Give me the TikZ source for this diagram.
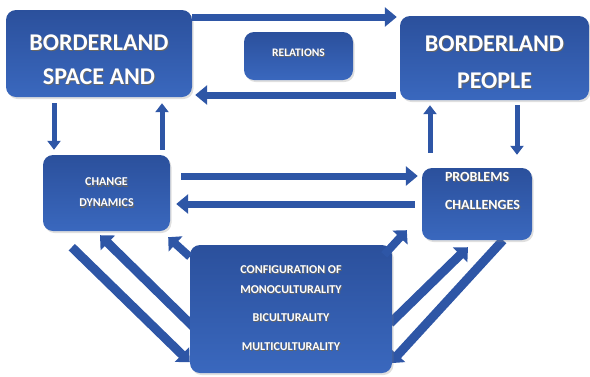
\documentclass[tikz,border=0pt]{standalone}
\usepackage{fontspec}
\setmainfont{Carlito}
\usetikzlibrary{arrows.meta, positioning, shadows, backgrounds}

\definecolor{boxtop}{RGB}{43,80,156}
\definecolor{boxbot}{RGB}{58,104,190}
\definecolor{arrowblue}{RGB}{46,86,166}

% white caption with a dark copy set just behind it
\newcommand{\shtext}[1]{\makebox[0pt][l]{\color{black!60}\hspace{1pt}\raisebox{-1.2pt}{#1}}#1}

\tikzstyle{block} = [rectangle, rounded corners=10pt, top color=boxtop, bottom color=boxbot, drop shadow={opacity=0.25, shadow xshift=1.5pt, shadow yshift=-2pt}, text=white, font=\bfseries, align=center]
\tikzstyle{txt} = [text=white, font=\bfseries, align=left, inner sep=0pt]
\tikzstyle{arrow} = [line width=7pt, draw=arrowblue, -{Triangle[length=12pt,width=19pt]}]
\tikzstyle{thinarrow} = [line width=5pt, draw=arrowblue, -{Triangle[length=9pt,width=13pt]}]
\tikzstyle{stub} = [line width=8pt, draw=arrowblue, -{Triangle[length=10pt,width=20pt]}]
\tikzstyle{diag} = [line width=9pt, draw=arrowblue, -{Triangle[length=11pt,width=20pt]}]

\begin{document}
\begin{tikzpicture}[x=1pt,y=-1pt]
\useasboundingbox (0,0) rectangle (590,376);

\node (space) [block, minimum width=186pt, minimum height=87pt, font=\fontsize{24}{34}\selectfont\bfseries] at (99,53.5) {\rule{0pt}{29pt}\shtext{BORDERLAND}\\\shtext{SPACE AND}};
\node (relations) [block, minimum width=109pt, minimum height=48pt, font=\fontsize{11.5}{14}\selectfont\bfseries] at (298.5,56) {\shtext{RELATIONS}\rule[-6pt]{0pt}{6pt}};
\node (people) [block, minimum width=189pt, minimum height=84pt, font=\fontsize{24}{37}\selectfont\bfseries] at (494.5,58) {\rule{0pt}{25pt}\shtext{BORDERLAND}\\\shtext{PEOPLE}};
\node (change) [block, minimum width=127pt, minimum height=76pt, font=\fontsize{12}{21}\selectfont\bfseries] at (106.5,193) {\shtext{CHANGE}\\\shtext{DYNAMICS}};
\node (problems) [block, minimum width=110pt, minimum height=72pt] at (477,204) {};
\node (problemstext) [txt, anchor=north west, font=\fontsize{14}{28}\selectfont\bfseries] at ([shift={(23,4)}]problems.north west) {\shtext{PROBLEMS}\\\shtext{CHALLENGES}};
\node (config) [block, minimum width=202pt, minimum height=128pt, font=\fontsize{12}{20}\selectfont\bfseries] at (291,309) {\shtext{CONFIGURATION OF}\\\shtext{MONOCULTURALITY}\\[8pt]\shtext{BICULTURALITY}\\[9pt]\shtext{MULTICULTURALITY}};

% relations between the two top boxes
\draw [arrow, shorten >=3pt] ([shift={(0,-36.5)}]space.east) -- ([shift={(0,-36.5)}]space.east -| people.west);
\draw [arrow, shorten <=4pt, shorten >=3pt] ([shift={(0,37)}]people.west) -- ([shift={(0,37)}]people.west -| space.east);

% up and down links
\draw [thinarrow, shorten <=6pt, shorten >=5pt] ([shift={(-45,0)}]space.south) -- ([shift={(-45,0)}]space.south |- change.north);
\draw [thinarrow, shorten <=5pt, shorten >=6pt] ([shift={(55.5,0)}]change.north) -- ([shift={(55.5,0)}]change.north |- space.south);
\draw [thinarrow, shorten <=15pt, shorten >=5pt] ([shift={(-47,0)}]problems.north) -- ([shift={(-47,0)}]problems.north |- people.south);
\draw [thinarrow, shorten <=5pt, shorten >=13pt] ([shift={(22.5,0)}]people.south) -- ([shift={(22.5,0)}]people.south |- problems.north);

% middle row
\draw [arrow, shorten <=11pt, shorten >=4pt] ([shift={(0,-17)}]change.east) -- ([shift={(0,-17)}]change.east -| problems.west);
\draw [arrow, shorten <=7pt, shorten >=6pt] ([shift={(0,11)}]change.east -| problems.west) -- ([shift={(0,11)}]change.east);

% short ones out of the configuration box
\draw [stub] ([shift={(0,12)}]config.north west) -- ([shift={(-2,6)}]change.south east);
\draw [stub] ([shift={(-8,10)}]config.north east) -- ([shift={(-15,-10)}]problems.south west);

% long diagonals, kept under the boxes
\begin{pgfonlayer}{background}
\draw [diag] ([shift={(29,16)}]change.south west) -- ([shift={(0,-11)}]config.south west);
\draw [diag] ([shift={(7,-43)}]config.south west) -- ([shift={(-6.5,4)}]change.south);
\draw [diag] ([shift={(-2,-50)}]config.south east) -- ([shift={(-9,7)}]problems.south);
\draw [diag] ([shift={(26,0)}]problems.south) -- ([shift={(-2,-10)}]config.south east);
\end{pgfonlayer}
\end{tikzpicture}
\end{document}
